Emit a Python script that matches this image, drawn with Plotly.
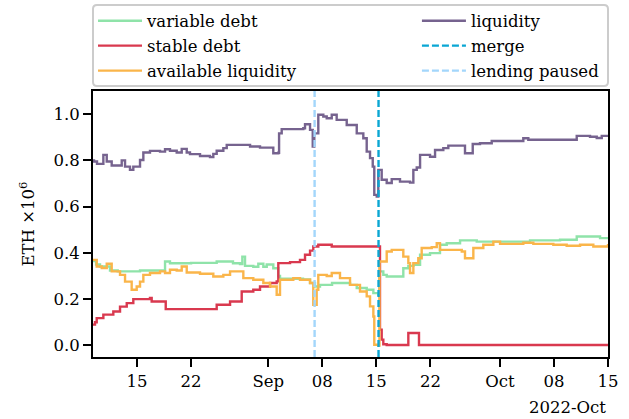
import plotly.graph_objects as go
import pandas as pd

START = pd.Timestamp("2022-08-01")

# days since 2022-08-01, values in ETH x 1e6
variable_days = [8.30, 8.70, 9.21, 10.50, 11.50, 14.39, 17.63, 18.27, 21.00, 24.32, 26.43,
                 27.34, 27.64, 27.99, 29.06, 29.71, 30.36, 30.80, 31.65, 32.30, 32.52,
                 35.50, 36.41, 37.05, 37.70, 39.26, 41.20, 41.59, 42.46, 43.75, 44.61,
                 45.25, 45.40, 45.90, 46.34, 48.28, 48.49, 49.14, 49.79, 50.66, 51.95,
                 53.24, 54.11, 55.84, 58.00, 62.74, 64.90, 68.79, 70.95, 73.10, 73.97, 75.00]
variable_debt = [0.365, 0.350, 0.341, 0.324, 0.320, 0.324, 0.363, 0.355, 0.357, 0.363, 0.355,
                 0.352, 0.384, 0.344, 0.340, 0.353, 0.340, 0.350, 0.334, 0.300, 0.288,
                 0.285, 0.270, 0.255, 0.262, 0.270, 0.270, 0.262, 0.248, 0.241, 0.226,
                 0.219, 0.320, 0.305, 0.298, 0.298, 0.334, 0.344, 0.349, 0.392, 0.399,
                 0.435, 0.442, 0.454, 0.449, 0.449, 0.454, 0.457, 0.471, 0.471, 0.464, 0.464]

stable_days = [8.30, 8.56, 8.78, 9.64, 10.93, 11.80, 12.67, 13.52, 15.68, 15.90, 17.63,
               17.72, 24.10, 24.32, 26.05, 27.56, 29.06, 29.93, 31.23, 32.09, 32.30,
               33.82, 35.11, 35.76, 36.41, 36.83, 37.48, 39.22, 45.30, 45.47, 45.69,
               45.90, 46.34, 49.14, 50.52, 75.00]
stable_debt = [0.090, 0.100, 0.118, 0.133, 0.147, 0.168, 0.183, 0.200, 0.205, 0.190, 0.190,
               0.157, 0.157, 0.176, 0.190, 0.233, 0.241, 0.255, 0.270, 0.277, 0.356,
               0.360, 0.370, 0.392, 0.410, 0.428, 0.435, 0.428, 0.428, 0.068, 0.025,
               0.005, 0.002, 0.054, 0.002, 0.002]

available_days = [8.30, 8.78, 9.43, 10.08, 10.72, 11.80, 12.45, 13.31, 13.96, 14.39, 14.82,
                  15.68, 16.98, 17.63, 18.27, 19.14, 19.79, 20.44, 22.16, 23.88, 25.18,
                  26.05, 27.34, 27.77, 29.06, 30.36, 31.23, 32.09, 32.52, 34.24, 35.11,
                  36.41, 36.83, 37.27, 37.48, 38.57, 39.22, 40.29, 41.59, 42.88, 43.75,
                  44.18, 44.61, 44.73, 45.25, 45.40, 46.34, 46.99, 48.06, 48.49, 49.14,
                  49.36, 49.79, 50.43, 50.87, 52.17, 52.82, 53.24, 54.97, 56.06, 56.48,
                  57.35, 57.56, 58.85, 60.15, 61.02, 64.03, 65.33, 67.92, 69.65, 71.38,
                  73.10, 75.00]
available_liquidity = [0.370, 0.341, 0.335, 0.353, 0.320, 0.305, 0.276, 0.241, 0.255, 0.276, 0.305,
                       0.313, 0.320, 0.313, 0.327, 0.324, 0.341, 0.315, 0.310, 0.298, 0.305,
                       0.320, 0.320, 0.291, 0.284, 0.270, 0.255, 0.219, 0.284, 0.291, 0.284,
                       0.270, 0.176, 0.241, 0.305, 0.300, 0.313, 0.291, 0.262, 0.233, 0.212,
                       0.169, 0.125, 0.003, 0.000, 0.363, 0.406, 0.413, 0.413, 0.384, 0.356,
                       0.313, 0.356, 0.377, 0.421, 0.425, 0.442, 0.413, 0.413, 0.406, 0.377,
                       0.377, 0.421, 0.435, 0.449, 0.439, 0.444, 0.439, 0.435, 0.431, 0.435,
                       0.428, 0.439]

liquidity_days = [8.30, 8.43, 8.82, 9.64, 10.08, 10.72, 11.54, 12.02, 12.45, 13.09, 13.52,
                  14.39, 14.82, 15.68, 16.98, 17.63, 18.27, 19.14, 19.79, 20.44, 20.86,
                  22.16, 23.45, 23.88, 24.32, 25.18, 25.62, 27.77, 28.64, 29.93, 31.45,
                  31.65, 32.30, 32.40, 32.74, 35.54, 35.76, 36.41, 36.76, 36.96, 37.35,
                  37.48, 38.13, 38.57, 39.22, 39.86, 41.16, 42.46, 43.31, 43.75, 44.18,
                  44.53, 44.73, 45.05, 45.25, 45.69, 46.34, 46.99, 48.06, 49.36, 49.79,
                  50.23, 50.66, 51.95, 52.60, 53.67, 54.32, 56.26, 56.48, 57.35, 57.48,
                  58.42, 59.94, 62.74, 64.03, 64.68, 70.51, 70.95, 72.67, 73.54, 74.19, 75.00]
liquidity = [0.800, 0.795, 0.785, 0.824, 0.795, 0.778, 0.778, 0.800, 0.773, 0.759, 0.773,
             0.802, 0.834, 0.841, 0.838, 0.848, 0.842, 0.834, 0.850, 0.834, 0.827,
             0.819, 0.814, 0.828, 0.842, 0.853, 0.867, 0.867, 0.860, 0.855, 0.855,
             0.831, 0.833, 0.917, 0.935, 0.939, 0.956, 0.932, 0.860, 0.917, 0.917,
             0.997, 0.990, 0.982, 0.997, 0.975, 0.953, 0.917, 0.896, 0.838, 0.810,
             0.773, 0.651, 0.644, 0.759, 0.716, 0.702, 0.719, 0.708, 0.704, 0.759,
             0.769, 0.824, 0.816, 0.845, 0.853, 0.864, 0.864, 0.831, 0.831, 0.871,
             0.874, 0.884, 0.884, 0.896, 0.889, 0.889, 0.906, 0.902, 0.897, 0.906, 0.902]

merge_day = 45.28
paused_day = 37.0
x_range_days = [8.30, 75.0]
y_range = [-0.05, 1.1]

tick_days = [14, 21, 31, 38, 45, 52, 61, 68, 75]
tick_text = ["15", "22", "Sep", "08", "15", "22", "Oct", "08", "15"]


def to_dates(days):
    return START + pd.to_timedelta(days, unit="D")


FONT = "DejaVu Serif"
FS = 16.5
LW = 2.4

fig = go.Figure()

series = [
    ("variable debt", variable_days, variable_debt, "#8fe3a9", "legend"),
    ("stable debt", stable_days, stable_debt, "#d9394f", "legend"),
    ("available liquidity", available_days, available_liquidity, "#fab54a", "legend"),
    ("liquidity", liquidity_days, liquidity, "#76638f", "legend2"),
]
for name, days, vals, color, leg in series:
    fig.add_trace(
        go.Scatter(
            x=to_dates(days),
            y=vals,
            mode="lines",
            name=name,
            legend=leg,
            legendgroup=name,
            line=dict(color=color, width=LW, shape="hv"),
        )
    )

for name, day, color in [
    ("merge", merge_day, "#0aa6d3"),
    ("lending paused", paused_day, "#a3d6fb"),
]:
    fig.add_trace(
        go.Scatter(
            x=to_dates([day, day]),
            y=y_range,
            mode="lines",
            name=name,
            legend="legend2",
            legendgroup=name,
            line=dict(color=color, width=LW, dash="7px,3px"),
        )
    )

# rounded legend frame (matplotlib-style fancybox)
rx, ry = 4 / 515, 4 / 266
x0, x1, y0, y1 = 0.0, 1.0, 1.019, 1.323
frame = (
    f"M{x0 + rx},{y0} L{x1 - rx},{y0} Q{x1},{y0} {x1},{y0 + ry} "
    f"L{x1},{y1 - ry} Q{x1},{y1} {x1 - rx},{y1} "
    f"L{x0 + rx},{y1} Q{x0},{y1} {x0},{y1 - ry} "
    f"L{x0},{y0 + ry} Q{x0},{y0} {x0 + rx},{y0} Z"
)
fig.add_shape(type="path", xref="paper", yref="paper", path=frame,
              line=dict(color="#cccccc", width=2))

fig.add_annotation(
    text="2022-Oct", xref="paper", yref="paper", x=1.0, y=-0.188,
    xanchor="right", yanchor="middle", showarrow=False,
    font=dict(family=FONT, size=FS, color="black"),
)

legend_common = dict(
    orientation="v",
    y=1.329, yanchor="top", xanchor="left",
    bgcolor="rgba(0,0,0,0)",
    font=dict(family=FONT, size=FS, color="black"),
    tracegroupgap=0.5,
    itemwidth=44,
)

fig.update_layout(
    width=629,
    height=419,
    margin=dict(l=93, r=21, t=91, b=62, autoexpand=False),
    paper_bgcolor="white",
    plot_bgcolor="white",
    font=dict(family=FONT, size=FS, color="black"),
    legend=dict(x=0.0, **legend_common),
    legend2=dict(x=0.629, **legend_common),
    xaxis=dict(
        range=list(to_dates(x_range_days)),
        tickvals=list(to_dates(tick_days)),
        ticktext=tick_text,
        ticks="outside", ticklen=8, tickwidth=1.5, tickcolor="black",
        showline=True, linecolor="black", linewidth=2, mirror=True,
        showgrid=False, zeroline=False,
    ),
    yaxis=dict(
        range=y_range,
        tickvals=[0, 0.2, 0.4, 0.6, 0.8, 1.0],
        tickformat=".1f",
        ticks="outside", ticklen=8, tickwidth=1.5, tickcolor="black",
        showline=True, linecolor="black", linewidth=2, mirror=True,
        showgrid=False, zeroline=False,
        title=dict(text="ETH ×10<sup>6</sup>", standoff=15,
                   font=dict(family=FONT, size=16.5, color="black")),
    ),
)

# drop the browser's default body margin so the figure sits at the page origin
fig.write_html(
    "out.html",
    config={"displayModeBar": False},
    post_script="document.body.style.margin='0';",
)
